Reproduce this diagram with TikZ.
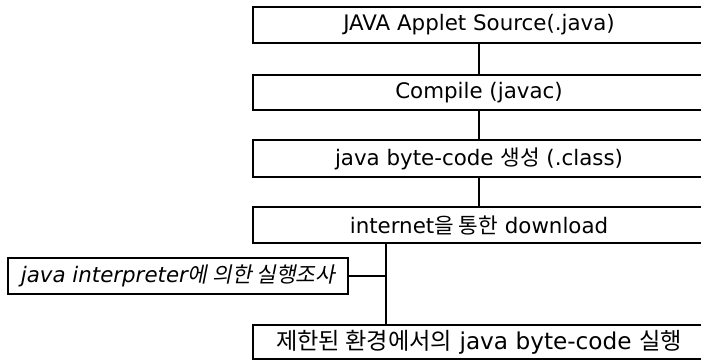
\documentclass[tikz,border=0pt]{standalone}
\usepackage{fontspec}
\setmainfont{DejaVu Sans}
\newfontfamily\kr{Noto Sans CJK KR}
\newfontfamily\krit[FakeSlant=0.2]{Noto Sans CJK KR}
\usepackage{tikz}
\usetikzlibrary{positioning}
\tikzstyle{stage} = [rectangle, draw, line width=1.2pt, minimum width=11.3cm, minimum height=0.9cm, inner sep=0pt, text centered, font=\fontsize{15.2}{18}\selectfont]
\tikzstyle{link} = [line width=1.2pt]

\begin{document}
\begin{tikzpicture}
    \clip (0,0) rectangle (17.525,9.025);

    % Main chain
    \node[stage] (src) at (11.975, 8.4) {JAVA Applet Source(.java)};
    \node[stage, minimum height=0.875cm] (comp) at (11.975, 6.7125) {Compile (javac)};
    \node[stage, minimum height=0.925cm] (bytecode) at (11.975, 5.0625) {java byte-code {\kr 생성} (.class)};
    \node[stage] (down) at (11.975, 3.4) {internet{\kr 을 통한} download};

    % Interpreter check
    \node[stage, minimum width=8.5cm] (check) at (4.45, 2.125) {\itshape java interpreter{\krit 에 의한 실행조사}};

    % Execution
    \node[stage, minimum height=0.85cm, font=\fontsize{16.5}{20}\selectfont] (exec) at (11.975, 0.475) {{\kr 제한된 환경에서의} java byte-code {\kr 실행}};

    % Links
    \draw[link] (src) -- (comp);
    \draw[link] (comp) -- (bytecode);
    \draw[link] (bytecode) -- (down);

    \coordinate (tap) at (9.65, 2.125);
    \draw[link] (down.south -| tap) -- (exec.north -| tap);
    \draw[link] (check) -- (tap);
\end{tikzpicture}
\end{document}
